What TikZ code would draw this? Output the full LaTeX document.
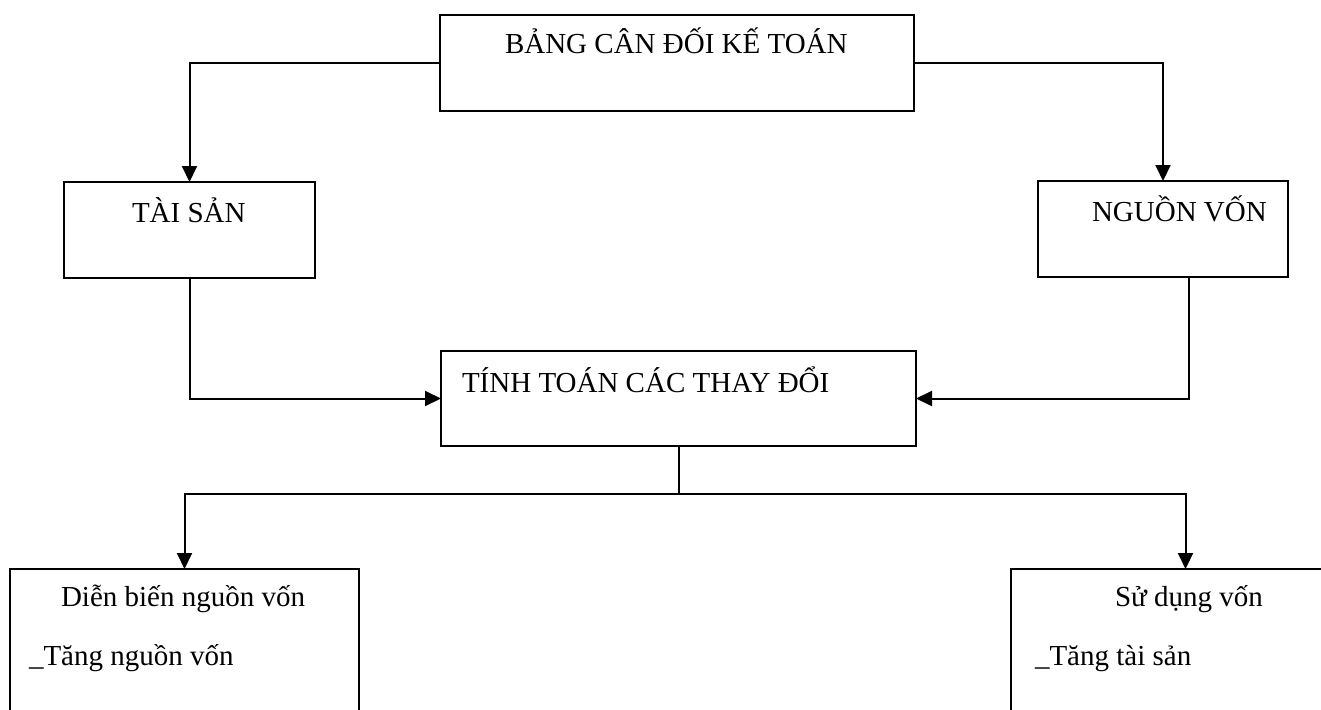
\documentclass[tikz,border=0pt]{standalone}
\usepackage{fontspec}
\setmainfont{Liberation Serif}
\usetikzlibrary{arrows.meta}
\tikzset{
  boxnode/.style={draw, line width=2pt, rectangle, anchor=north west, inner sep=0pt, outer sep=0pt},
  lbl/.style={anchor=base west, inner sep=0pt, outer sep=0pt, font=\fontsize{29}{35}\selectfont},
  conn/.style={line width=2pt},
  arr/.style={conn, -{Triangle[length=16pt,width=15pt]}}
}
\begin{document}
\begin{tikzpicture}[x=1pt,y=-1pt]
\useasboundingbox (0,0) rectangle (1321,709);
\clip (0,0) rectangle (1321,709);
\fill[white] (0,0) rectangle (1321,709);
% boxes
\node[boxnode, minimum width=474pt, minimum height=96pt] (bcd) at (440,15) {};
\node[boxnode, minimum width=251pt, minimum height=96pt] (ts) at (64,182) {};
\node[boxnode, minimum width=250pt, minimum height=96pt] (nv) at (1038,181) {};
\node[boxnode, minimum width=475pt, minimum height=95pt] (tt) at (441,351) {};
\node[boxnode, minimum width=349pt, minimum height=200pt] (db) at (10,569) {};
\node[boxnode, minimum width=349pt, minimum height=200pt] (sd) at (1011,569) {};
% texts
\node[lbl] (t1) at (505,53) {BẢNG CÂN ĐỐI KẾ TOÁN};
\node[lbl] (t2) at (132,222) {TÀI SẢN};
\node[lbl] (t3) at (1092,221) {NGUỒN VỐN};
\node[lbl] (t4) at (462,392) {TÍNH TOÁN CÁC THAY ĐỔI};
\node[lbl] (t5) at (61,606) {Diễn biến nguồn vốn};
\node[lbl] (t6) at (29,665) {\_Tăng nguồn vốn};
\node[lbl] (t7) at (1115,606) {Sử dụng vốn};
\node[lbl] (t8) at (1035,665) {\_Tăng tài sản};
% connectors
\draw[arr] (bcd.west) -| (ts.north);
\draw[arr] (bcd.east) -| (nv.north);
\draw[arr] (ts.south) |- (tt.west);
\coordinate (nvout) at ([xshift=26pt]nv.south);
\draw[arr] (nvout) |- (tt.east);
\coordinate (split) at ([yshift=-48pt]tt.south);
\draw[conn] (tt.south) -- (split);
\draw[arr] (split) -| (db.north);
\draw[arr] (split) -| (sd.north);
\end{tikzpicture}
\end{document}
